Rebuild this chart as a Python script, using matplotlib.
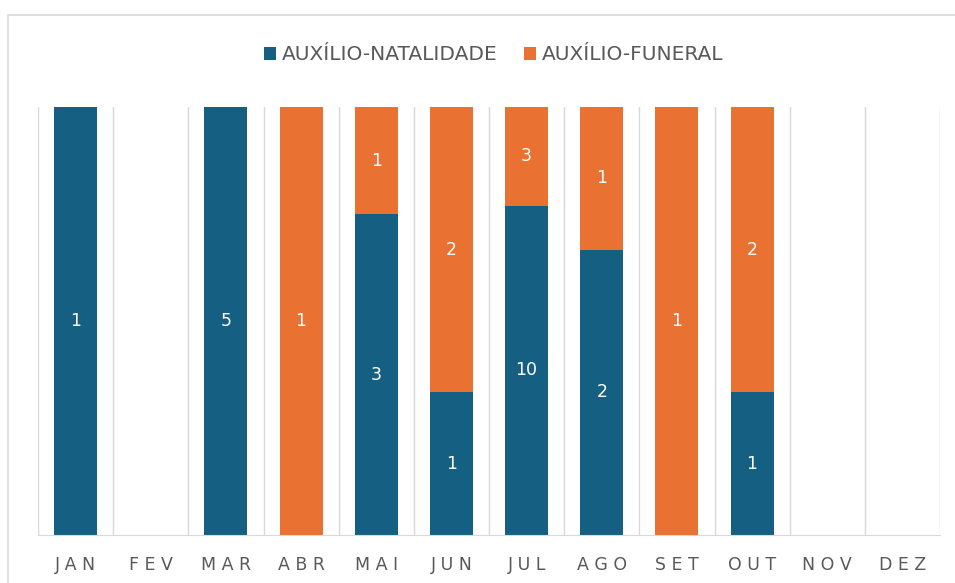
import matplotlib
matplotlib.use("Agg")
import matplotlib.pyplot as plt
from matplotlib.patches import Rectangle
import numpy as np

months = ["JAN", "FEV", "MAR", "ABR", "MAI", "JUN", "JUL", "AGO", "SET", "OUT", "NOV", "DEZ"]
natalidade = [1, 0, 5, 0, 3, 1, 10, 2, 0, 1, 0, 0]
funeral = [0, 0, 0, 1, 1, 2, 3, 1, 1, 2, 0, 0]
series_names = ["AUXÍLIO-NATALIDADE", "AUXÍLIO-FUNERAL"]

c_blue = "#156082"
c_orange = "#E97132"
grid_c = "#D9D9D9"
text_c = "#595959"

plt.rcParams["font.family"] = ["DejaVu Sans"]

fig = plt.figure(figsize=(9.55, 5.83), dpi=100)
fig.patches.append(Rectangle((8 / 955, -0.1), 1.2, (583 - 15) / 583 + 0.1, transform=fig.transFigure,
                             fill=False, edgecolor="#D9D9D9", linewidth=1.2))
ax = fig.add_axes([38 / 955, 1 - 535 / 583, (940 - 38) / 955, (535 - 107) / 583])

nat = np.array(natalidade, dtype=float)
fun = np.array(funeral, dtype=float)
tot = nat + fun
safe = np.where(tot == 0, 1, tot)
pn = np.where(tot == 0, 0, nat / safe)
pf = np.where(tot == 0, 0, fun / safe)
x = np.arange(len(months))
w = 0.57
ax.bar(x, pn, w, color=c_blue, label=series_names[0], zorder=3)
ax.bar(x, pf, w, bottom=pn, color=c_orange, label=series_names[1], zorder=3)

for i in range(len(months)):
    if nat[i] > 0:
        ax.text(x[i], pn[i] / 2, f"{int(nat[i])}", ha="center", va="center", color="white", fontsize=12.5, zorder=4)
    if fun[i] > 0:
        ax.text(x[i], pn[i] + pf[i] / 2, f"{int(fun[i])}", ha="center", va="center", color="white", fontsize=12.5, zorder=4)

ax.set_xlim(-0.5, len(months) - 0.5)
ax.set_ylim(0, 1)
for b in np.arange(-0.5, len(months), 1.0):
    ax.axvline(b, color=grid_c, linewidth=1, zorder=1)
for s in ["top", "left", "right"]:
    ax.spines[s].set_visible(False)
ax.spines["bottom"].set_color(grid_c)
ax.spines["bottom"].set_zorder(5)
ax.set_yticks([])
ax.set_xticks(x)
ax.set_xticklabels([" ".join(m) for m in months], color=text_c, fontsize=12.5)
ax.tick_params(axis="x", length=0, pad=15)

fig.legend(loc="center", bbox_to_anchor=(494 / 955, 1 - 55 / 583), ncol=2, frameon=False,
           handlelength=0.6, handleheight=0.6, handletextpad=0.3, columnspacing=1.3,
           prop={"size": 14.5}, labelcolor=text_c)

fig.savefig("out.png", dpi=100)
